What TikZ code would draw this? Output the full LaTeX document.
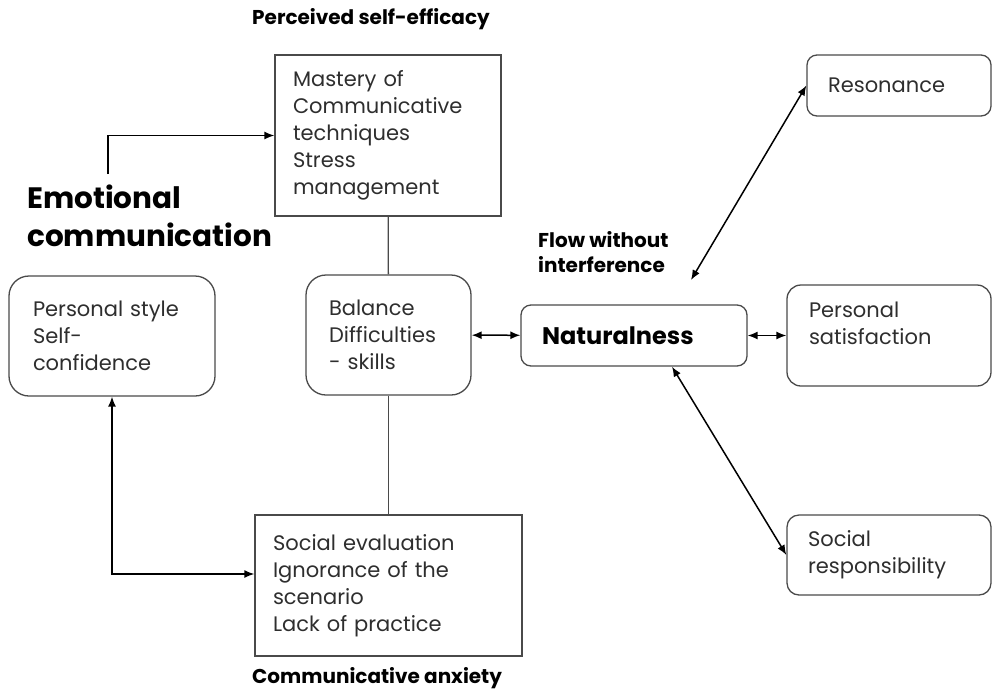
\documentclass[tikz,border=0pt]{standalone}
\usepackage{fontspec}
\setmainfont{Poppins}
\usetikzlibrary{arrows.meta, positioning}
\definecolor{boxgray}{HTML}{4A4A4A}
\definecolor{textgray}{HTML}{2E2E2E}

\tikzset{
    box/.style={draw=boxgray, line width=1.3pt, text=textgray, align=left,
        font=\fontsize{21}{27}\selectfont, inner ysep=0pt},
    roundbox/.style={box, rounded corners=#1},
    heading/.style={font=\fontsize{20}{25}\selectfont\bfseries, align=left, inner sep=0pt},
    arr/.style={-{Latex[length=10pt,width=8pt]}, line width=1.5pt},
    biarr/.style={{Latex[length=10pt,width=8pt]}-{Latex[length=10pt,width=8pt]}, line width=1.5pt},
    link/.style={draw=boxgray, line width=1.3pt}
}

\begin{document}
\begin{tikzpicture}[x=1pt, y=-1pt]
    \useasboundingbox (0,0) rectangle (992,691);

    % boxes
    \node[box, minimum width=226, minimum height=161, inner xsep=18pt, text width=190pt] (mastery) at (388,135.5)
        {Mastery of\\Communicative\\techniques\\Stress\\management};
    \node[roundbox=20pt, minimum width=165, minimum height=120, inner xsep=23pt, text width=119pt] (balance) at (388.5,335)
        {Balance\\Difficulties\\- skills};
    \node[box, minimum width=267, minimum height=141, inner xsep=18pt, text width=231pt] (anxiety) at (388.5,585.5)
        {Social evaluation\\Ignorance of the\\scenario\\Lack of practice};
    \node[roundbox=20pt, minimum width=206, minimum height=120, inner xsep=24pt, text width=158pt] (style) at (112,336)
        {Personal style\\Self-\\confidence};
    \node[roundbox=10pt, minimum width=226, minimum height=61, inner xsep=21pt, text width=184pt,
        font=\fontsize{24}{27}\selectfont\bfseries, text=black] (natural) at (634,335.5)
        {Naturalness};
    \node[roundbox=10pt, minimum width=184, minimum height=61, inner xsep=21pt, text width=142pt] (resonance) at (899,85.5)
        {Resonance};
    \node[roundbox=14pt, minimum width=204, minimum height=101, inner xsep=22pt, text width=160pt] (satisf) at (889,335.5)
        {Personal\\satisfaction\\[-10pt]\strut};
    \node[roundbox=12pt, minimum width=204, minimum height=80, inner xsep=21pt, text width=162pt] (socresp) at (889,555)
        {Social\\responsibility};

    % headings
    \node[heading, anchor=west] (efficacy) at (252,19) {Perceived self-efficacy};
    \node[heading, anchor=west] (flow) at (538,252.5) {Flow without\\interference};
    \node[heading, anchor=west] (anxlabel) at (252,678) {Communicative anxiety};
    \node[heading, anchor=north west, font=\fontsize{29.5}{38}\selectfont\bfseries] (emotion) at (27,185)
        {Emotional\\communication};

    % connectors
    \coordinate (emostart) at (108,174);
    \coordinate (flowend) at (691,280);
    \draw[arr] (emostart) |- (mastery.west);
    \draw[link] (mastery) -- (balance);
    \draw[link] (balance) -- (anxiety);
    \draw[biarr] (style.south) |- ([yshift=11.5pt]anxiety.west);
    \draw[biarr] (balance) -- (natural);
    \draw[biarr] (natural) -- (satisf);
    \draw[biarr] (flowend) -- (resonance.west);
    \draw[biarr] ([xshift=38pt]natural.south) -- (socresp.west);
\end{tikzpicture}
\end{document}
